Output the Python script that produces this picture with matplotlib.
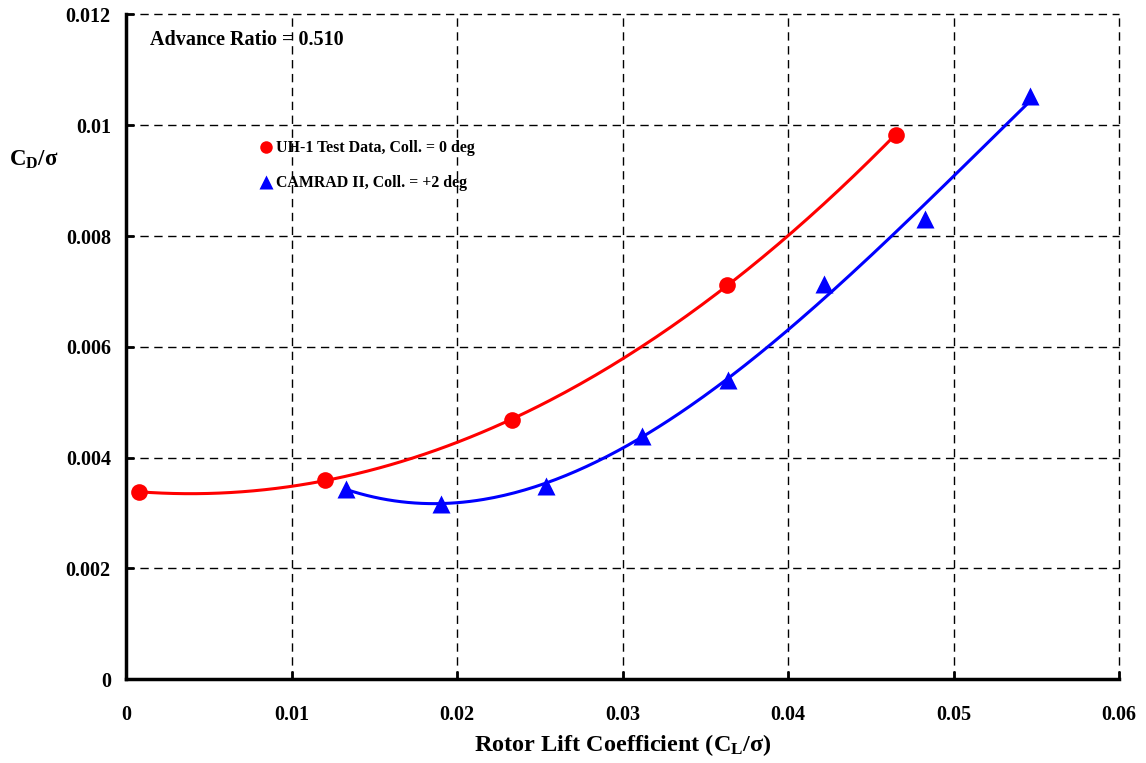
import numpy as np
import matplotlib.pyplot as plt
from matplotlib.lines import Line2D

# data
uh1_cl = [0.0008, 0.0120, 0.0233, 0.0363, 0.0465]
uh1_cd = [0.00338, 0.00359, 0.00468, 0.00711, 0.00983]

camrad_cl = [0.0133, 0.0190, 0.0254, 0.0312, 0.0364, 0.0422, 0.0483, 0.0546]
camrad_cd = [0.00344, 0.00317, 0.00348, 0.00439, 0.00540, 0.00714, 0.00830, 0.01052]

x_ticks = [0, 0.01, 0.02, 0.03, 0.04, 0.05, 0.06]
x_labels = ['0', '0.01', '0.02', '0.03', '0.04', '0.05', '0.06']
y_ticks = [0, 0.002, 0.004, 0.006, 0.008, 0.010, 0.012]
y_labels = ['0', '0.002', '0.004', '0.006', '0.008', '0.01', '0.012']

plt.rcParams['font.family'] = ['Liberation Serif', 'DejaVu Serif']
plt.rcParams['font.weight'] = 'bold'
plt.rcParams['mathtext.fontset'] = 'custom'
plt.rcParams['mathtext.rm'] = 'Liberation Serif:bold'
plt.rcParams['mathtext.it'] = 'Liberation Serif:bold'
plt.rcParams['mathtext.bf'] = 'Liberation Serif:bold'

fig = plt.figure(figsize=(11.46, 7.63), dpi=100)
ax = fig.add_axes([0.110, 0.110, 0.8665, 0.871])

# trend lines fitted through the points
red_fit = np.polyfit(uh1_cl, uh1_cd, 2)
xr = np.linspace(min(uh1_cl), max(uh1_cl), 200)
ax.plot(xr, np.polyval(red_fit, xr), color='#ff0000', lw=2.2, zorder=3)

blue_fit = np.polyfit(camrad_cl, camrad_cd, 3)
xb = np.linspace(min(camrad_cl), max(camrad_cl), 200)
ax.plot(xb, np.polyval(blue_fit, xb), color='#0000ff', lw=2.2, zorder=3)

ax.plot(uh1_cl, uh1_cd, 'o', color='#ff0000', ms=12, mec='none', zorder=4)
ax.plot(camrad_cl, camrad_cd, '^', color='#0000ff', ms=13, mec='none', zorder=4)

ax.set_xlim(0, 0.06)
ax.set_ylim(0, 0.012)
ax.set_xticks(x_ticks)
ax.set_xticklabels(x_labels)
ax.set_yticks(y_ticks)
ax.set_yticklabels(y_labels)
ax.tick_params(direction='in', length=6, width=2, labelsize=14.5)
ax.tick_params(axis='x', pad=19)
ax.tick_params(axis='y', pad=11)

ax.grid(True, color='black', ls=(0, (6, 4)), lw=1)
for gl in ax.get_xgridlines() + ax.get_ygridlines():
    gl.set_clip_on(False)
ax.spines['top'].set_visible(False)
ax.spines['right'].set_visible(False)
ax.spines['left'].set_linewidth(2.5)
ax.spines['bottom'].set_linewidth(2.5)

ax.set_xlabel('Rotor Lift Coefficient (C$_\\mathrm{L}$/σ)', fontsize=17.5,
              fontweight='bold', labelpad=5)
fig.text(0.008, 0.79, 'C$_\\mathrm{D}$/σ', fontsize=16.5, va='center', ha='left')

ax.text(0.024, 0.962, 'Advance Ratio = 0.510', transform=ax.transAxes,
        fontsize=14.5, va='center', ha='left')

handles = [
    Line2D([], [], ls='none', marker='o', color='#ff0000', ms=9, mec='none'),
    Line2D([], [], ls='none', marker='^', color='#0000ff', ms=10, mec='none'),
]
ax.legend(handles, ['UH-1 Test Data, Coll. = 0 deg', 'CAMRAD II, Coll. = +2 deg'],
          loc='upper left', bbox_to_anchor=(0.122, 0.832), frameon=False,
          fontsize=11.4, handlelength=0.6, handletextpad=0.3, labelspacing=1.2)

fig.savefig('out.png', dpi=100)
